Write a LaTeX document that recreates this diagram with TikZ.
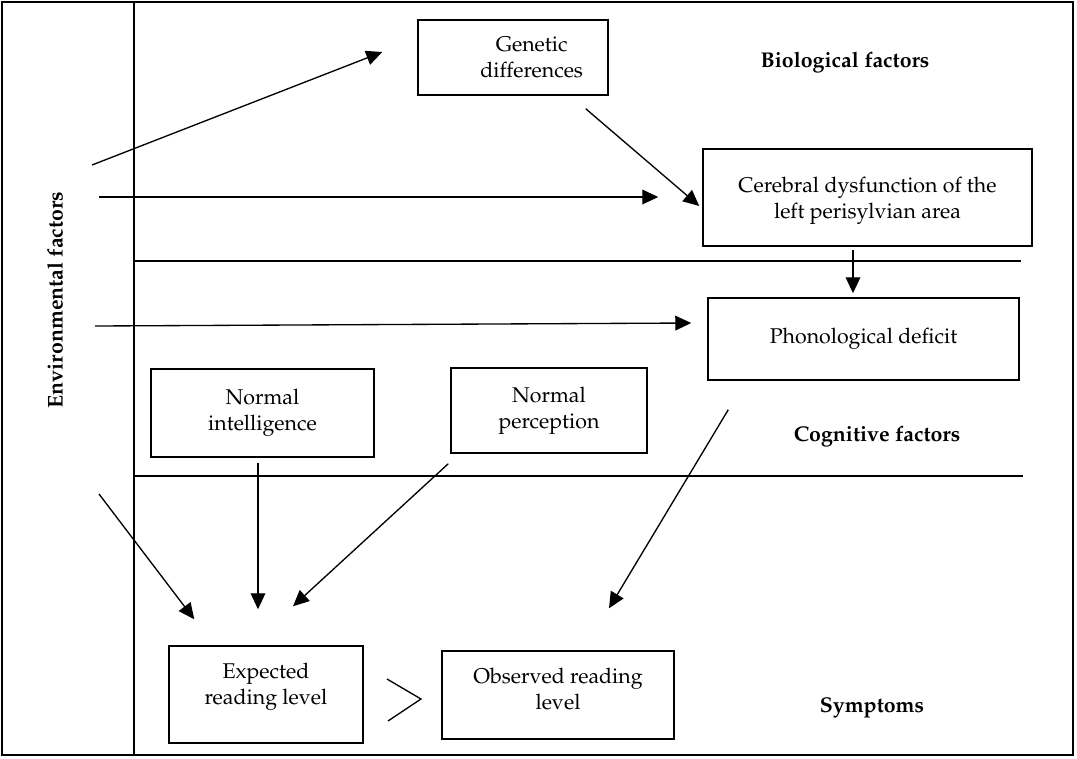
\documentclass[tikz,border=0pt]{standalone}
\usepackage[T1]{fontenc}
\usepackage{mathpazo}
\usetikzlibrary{positioning, arrows.meta, calc}
\tikzset{
    factor/.style={rectangle, draw=black, line width=1.1pt, text centered, align=center, font=\fontsize{16}{19.5}\selectfont},
    level/.style={font=\fontsize{16}{19.5}\selectfont\bfseries},
    arrow/.style={line width=1pt, -{Triangle[length=12pt, width=11pt]}},
    divider/.style={line width=1.1pt}
}

\begin{document}
\begin{tikzpicture}[x=0.75pt, y=-0.75pt]

    \useasboundingbox (0,0) rectangle (1077,758);

    % Frame and dividers
    \draw [line width=1.4pt] (2,2) rectangle (1073,755);
    \draw [divider] (134,2) -- (134,755);
    \draw [divider] (134,261) -- (1021,261);
    \draw [divider] (134,476) -- (1023,476);

    % Nodes
    \node (genetic) [factor, minimum width=142.5pt, minimum height=56.25pt,
        label={[font=\fontsize{16}{19.5}\selectfont, align=center, xshift=14pt]center:Genetic\\differences}] at (513,57.5) {};
    \node (cerebral) [factor, minimum width=246.75pt, minimum height=72.75pt, text depth=0pt] at (867.5,197.5) {Cerebral dysfunction of the\\left perisylvian area};
    \node (phonological) [factor, minimum width=233.25pt, minimum height=61.5pt] at (863.5,339) {Phonological deficit};
    \node (intelligence) [factor, minimum width=167.25pt, minimum height=66pt] at (262.5,413) {Normal\\intelligence};
    \node (perception) [factor, minimum width=147pt, minimum height=63.75pt] at (549,410.5) {Normal\\perception};
    \node (expected) [factor, minimum width=145.5pt, minimum height=72.75pt, text depth=16pt] at (266,694.5) {Expected\\reading level};
    \node (observed) [factor, minimum width=174pt, minimum height=66pt, text depth=10pt] at (558,695) {Observed reading\\level};

    % Levels
    \node (biological) [level] at (845,63) {Biological factors};
    \node (cognitive) [level] at (877,437) {Cognitive factors};
    \node (symptoms) [level] at (872,708) {Symptoms};
    \node (environmental) [level, rotate=90] at (55,300) {Environmental factors};

    % Environmental inputs
    \coordinate (env1) at (92,165);
    \coordinate (env2) at (99,197);
    \coordinate (env3) at (95,326);
    \coordinate (env4) at (99,494);

    % Arrows
    \draw [arrow] (env1) -- ($(genetic.west)+(-35,-5.5)$);
    \draw [arrow] (env2) -- ($(cerebral.west)+(-44,-0.5)$);
    \draw [arrow] ($(genetic.south east)+(-23,13)$) -- ($(cerebral.west)+(-3,8.5)$);
    \draw [arrow] ($(cerebral.south)+(-14.5,3)$) -- ($(phonological.north)+(-10.5,-4)$);
    \draw [arrow] (env3) -- ($(phonological.west)+(-16,-16)$);
    \draw [arrow] ($(intelligence.south)+(-4.5,5)$) -- ($(expected.north)+(-8,-36)$);
    \draw [arrow] ($(perception.south west)+(-2,10)$) -- ($(expected.north)+(27,-39)$);
    \draw [arrow] (env4) -- ($(expected.north west)+(26,-26)$);
    \draw [arrow] ($(phonological.south west)+(21,29)$) -- ($(observed.north)+(51,-42)$);

    % Greater-than sign
    \draw [line width=1pt] (387,679) -- (421,699) -- (388,721);

\end{tikzpicture}
\end{document}
